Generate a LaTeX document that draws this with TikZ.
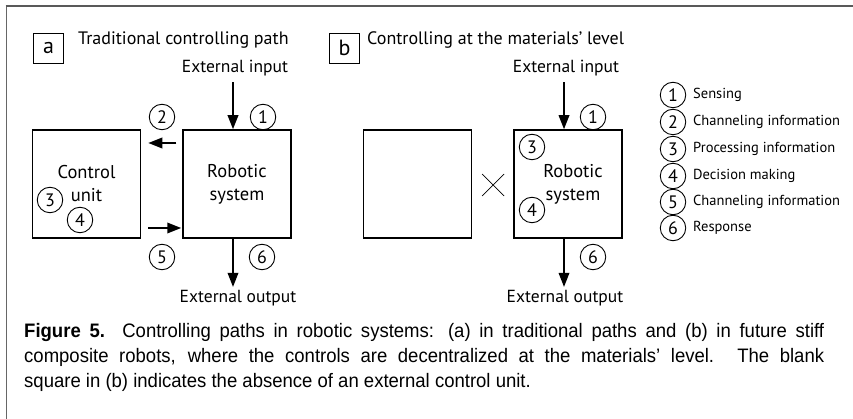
\documentclass[tikz,border=0pt]{standalone}
\usepackage{fontspec}
\setmainfont{Liberation Sans}
\newfontfamily\dfont{PT Sans}
\newfontfamily\capfont[FakeStretch=0.95]{Liberation Sans}
\usetikzlibrary{arrows.meta}
\begin{document}
\begin{tikzpicture}[x=1pt,y=-1pt,
  box/.style={draw, line width=1.5pt, minimum width=108pt, minimum height=108pt, inner sep=0pt,
    font=\dfont\fontsize{18.5}{23}\selectfont, align=center},
  num/.style={circle, draw, line width=0.9pt, minimum size=25.5pt, inner sep=0pt,
    font=\dfont\fontsize{18}{18}\selectfont},
  lbox/.style={draw, line width=0.8pt, minimum width=30pt, minimum height=30pt, inner sep=0pt,
    font=\dfont\fontsize{22}{22}\selectfont},
  ttl/.style={anchor=west, inner sep=0pt, font=\dfont\fontsize{18}{18}\selectfont},
  ext/.style={inner sep=0pt, font=\dfont\fontsize{17.5}{17.5}\selectfont},
  leg/.style={anchor=west, inner sep=0pt, font=\dfont\fontsize{14.5}{14.5}\selectfont},
  captext/.style={anchor=north west, inner sep=0pt, text width=800pt, align=justify,
    font=\capfont\fontsize{19.5}{25}\selectfont},
  arr/.style={line width=1.8pt, -{Triangle[length=14pt,width=10.5pt]}}]
\useasboundingbox (0,0) rectangle (853,419);
% frame
\draw[line width=0.8pt, color=black!60] (6,419) -- (6,6);
\draw[line width=2pt, color=black!65] (5.6,6) -- (853,6);
% panel a
\node[lbox] (la) at (48.5,48) {a};
\node[ttl] (ta) at (78,40) {Traditional controlling path};
\node[ext] (ina) at (235,68) {External input};
\node[box] (cu) at (86.5,184) {Control\\unit};
\node[box] (rs) at (237,184) {Robotic\\system};
\node[ext] (outa) at (238,298) {External output};
\draw[arr] ([xshift=-2pt,yshift=-6pt]ina.south) -- ([xshift=-4pt]rs.north);
\draw[arr] ([xshift=-4pt]rs.south) -- ([xshift=-5pt,yshift=3pt]outa.north);
\draw[arr] ([xshift=-6pt,yshift=41pt]rs.west) -- ([xshift=7pt,yshift=41pt]cu.east);
\draw[arr] ([xshift=7pt,yshift=-44pt]cu.east) -- ([xshift=-1pt,yshift=-44pt]rs.west);
\node[num] (a1) at (263,117) {1};
\node[num] (a2) at (162,117) {2};
\node[num] (a3) at (50,200) {3};
\node[num] (a4) at (80,220) {4};
\node[num] (a5) at (162,257) {5};
\node[num] (a6) at (262,257) {6};
% panel b
\node[lbox] (lb) at (344.5,48) {b};
\node[ttl] (tb) at (367,40) {Controlling at the materials’ level};
\node[ext] (inb) at (566,68) {External input};
\node[box] (bl) at (417.5,184) {};
\node[box] (rs2) at (568,184) {};
\node[font=\dfont\fontsize{18.5}{23}\selectfont, align=center] (rs2t) at (573,184) {Robotic\\system};
\node[ext] (outb) at (565,298) {External output};
\draw[arr] ([xshift=-2pt,yshift=-6pt]inb.south) -- ([xshift=-4pt]rs2.north);
\draw[arr] ([xshift=-4pt]rs2.south) -- ([xshift=-1pt,yshift=3pt]outb.north);
\draw[line width=0.7pt] (482,174) -- (504,196) (482,196) -- (504,174);
\node[num] (b1) at (593,117) {1};
\node[num] (b3) at (532,147) {3};
\node[num] (b4) at (532,210) {4};
\node[num] (b6) at (593,257) {6};
% legend
\node[num] (l1) at (673,95) {1};
\node[num] (l2) at (673,122) {2};
\node[num] (l3) at (673,149) {3};
\node[num] (l4) at (673,176) {4};
\node[num] (l5) at (673,202) {5};
\node[num] (l6) at (673,228) {6};
\node[leg] (s1) at (693,95) {Sensing};
\node[leg] (s2) at (693,122) {Channeling information};
\node[leg] (s3) at (693,149) {Processing information};
\node[leg] (s4) at (693,176) {Decision making};
\node[leg] (s5) at (693,202) {Channeling information};
\node[leg] (s6) at (693,228) {Response};
% caption
\node[captext] (cp) at (24,323) {\textbf{Figure 5.}\ \ Controlling paths in robotic systems: (a) in traditional paths and (b) in future stiff\linebreak
composite robots, where the controls are decentralized at the materials’ level. The blank\linebreak
square in (b) indicates the absence of an external control unit.};
\end{tikzpicture}
\end{document}
